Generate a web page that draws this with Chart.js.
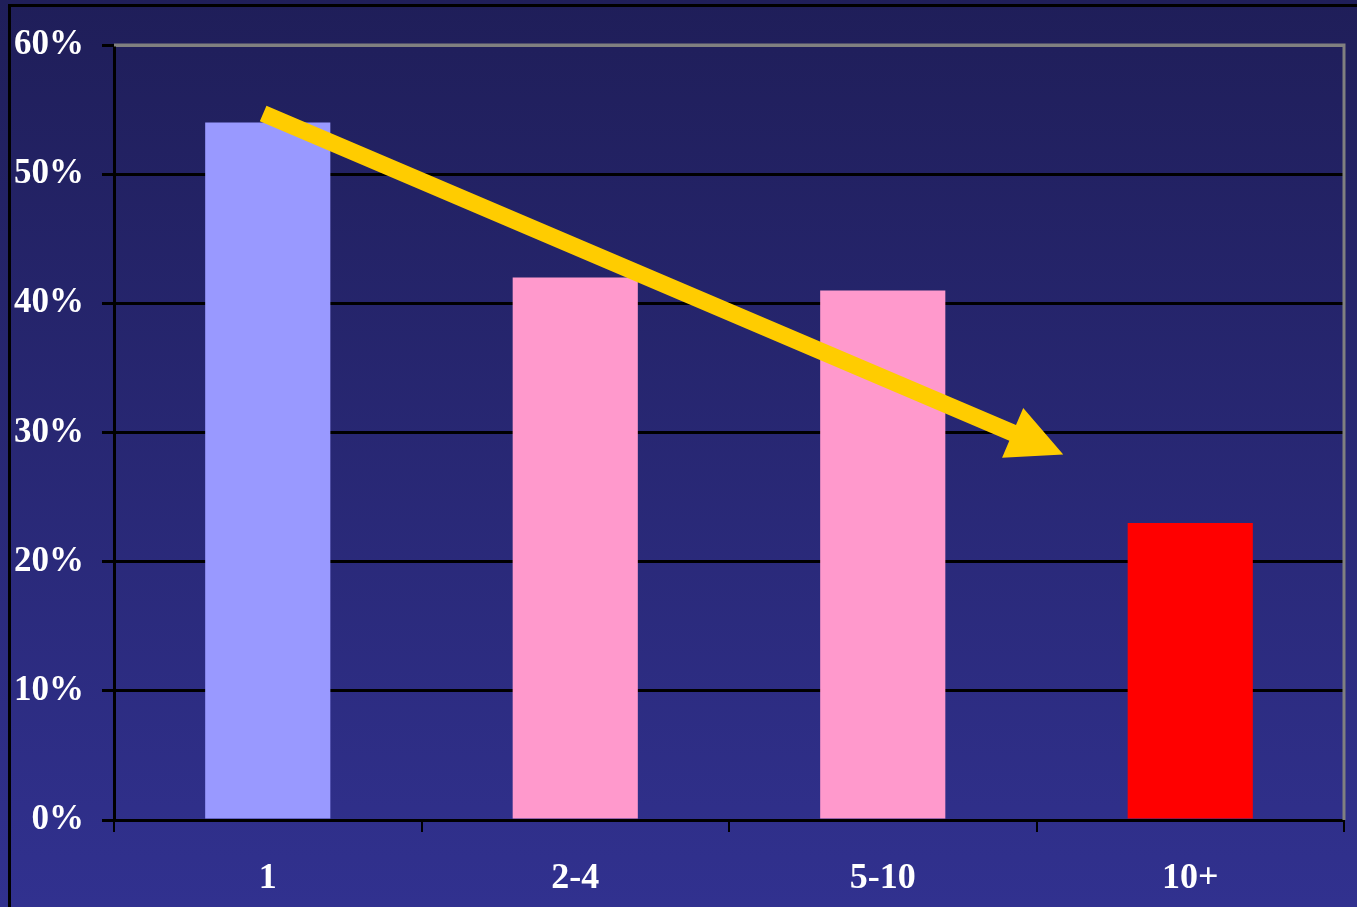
<!DOCTYPE html>
<html>
<head>
<meta charset="utf-8">
<script src="https://cdn.jsdelivr.net/npm/chart.js@4/dist/chart.umd.min.js"></script>
<style>
    html, body {
        margin: 0;
        padding: 0;
        width: 1357px;
        height: 907px;
        overflow: hidden;
        background: linear-gradient(to bottom, #1f1e59 0%, #31318f 100%);
    }
    .marco {
        position: absolute;
        left: 8px;
        top: 4px;
        right: -10px;
        bottom: -10px;
        border-left: 3px solid #000;
        border-top: 3px solid #000;
    }
    .contenedor {
        position: absolute;
        left: 0;
        top: 0;
        width: 1357px;
        height: 907px;
    }
</style>
</head>
<body>
<div class="marco"></div>
<div class="contenedor"><canvas id="grafico" width="1357" height="907"></canvas></div>
<script>
// ==================== DATOS ====================

const categorias = ['1', '2-4', '5-10', '10+'];
const valores = [54, 42, 41, 23];
const coloresBarras = ['#9999ff', '#ff99cc', '#ff99cc', '#ff0000'];
const ticksY = [0, 10, 20, 30, 40, 50, 60];

// flecha en coordenadas de datos: [indice categoria, porcentaje]
const flechaInicio = [-0.015, 54.7];
const flechaFin = [2.587, 28.3];

const familia = "'Liberation Serif', 'Times New Roman', serif";
const fuenteY = { family: familia, size: 35, weight: 'bold' };
const fuenteX = { family: familia, size: 36, weight: 'bold' };

// ==================== PLUGINS ====================

// Marco gris arriba y a la derecha del área
const marcoArea = {
    id: 'marcoArea',
    beforeDatasetsDraw(chart) {
        const { ctx, chartArea } = chart;
        ctx.save();
        ctx.strokeStyle = '#808080';
        ctx.lineWidth = 3;
        ctx.beginPath();
        ctx.moveTo(chartArea.left, chartArea.top);
        ctx.lineTo(chartArea.right, chartArea.top);
        ctx.lineTo(chartArea.right, chartArea.bottom);
        ctx.stroke();
        ctx.restore();
    }
};

// Flecha amarilla de tendencia
const flecha = {
    id: 'flecha',
    afterDatasetsDraw(chart) {
        const { ctx, scales } = chart;
        const x1 = scales.x.getPixelForValue(flechaInicio[0]);
        const y1 = scales.y.getPixelForValue(flechaInicio[1]);
        const x2 = scales.x.getPixelForValue(flechaFin[0]);
        const y2 = scales.y.getPixelForValue(flechaFin[1]);
        const ang = Math.atan2(y2 - y1, x2 - x1);
        const largo = Math.hypot(x2 - x1, y2 - y1);
        const grosor = 17;
        const cabezaLargo = 55;
        const cabezaAncho = 54;

        ctx.save();
        ctx.translate(x1, y1);
        ctx.rotate(ang);
        ctx.fillStyle = '#ffcc00';
        ctx.beginPath();
        ctx.moveTo(0, -grosor / 2);
        ctx.lineTo(largo - cabezaLargo, -grosor / 2);
        ctx.lineTo(largo - cabezaLargo, -cabezaAncho / 2);
        ctx.lineTo(largo, 0);
        ctx.lineTo(largo - cabezaLargo, cabezaAncho / 2);
        ctx.lineTo(largo - cabezaLargo, grosor / 2);
        ctx.lineTo(0, grosor / 2);
        ctx.closePath();
        ctx.fill();
        ctx.restore();
    }
};

// ==================== GRÁFICO ====================

const ctx = document.getElementById('grafico');

new Chart(ctx, {
    type: 'bar',
    data: {
        labels: categorias,
        datasets: [{
            data: valores,
            backgroundColor: coloresBarras,
            borderWidth: 0,
            barPercentage: 0.407,
            categoryPercentage: 1
        }]
    },
    options: {
        responsive: false,
        animation: false,
        layout: {
            padding: { left: 0, right: 13, top: 45, bottom: 0 }
        },
        plugins: {
            legend: { display: false },
            tooltip: { enabled: false }
        },
        scales: {
            x: {
                grid: {
                    offset: true,
                    drawOnChartArea: false,
                    color: '#000',
                    tickColor: '#000',
                    tickLength: 12,
                    lineWidth: 2
                },
                border: { color: '#000', width: 3 },
                ticks: {
                    color: '#fff',
                    font: fuenteX,
                    padding: 25,
                    maxRotation: 0
                },
                afterFit(scale) { scale.height = 87; }
            },
            y: {
                min: 0,
                max: 60,
                afterBuildTicks(scale) {
                    scale.ticks = ticksY.map(v => ({ value: v }));
                },
                grid: {
                    color: c => (c.tick && c.tick.value === 60) ? '#808080' : '#000',
                    tickColor: '#000',
                    tickLength: 12,
                    lineWidth: 3
                },
                border: { color: '#000', width: 3 },
                ticks: {
                    color: '#fff',
                    font: fuenteY,
                    padding: 18,
                    callback: v => v + '%'
                },
                afterFit(scale) { scale.width = 114; }
            }
        }
    },
    plugins: [marcoArea, flecha]
});
</script>
</body>
</html>
